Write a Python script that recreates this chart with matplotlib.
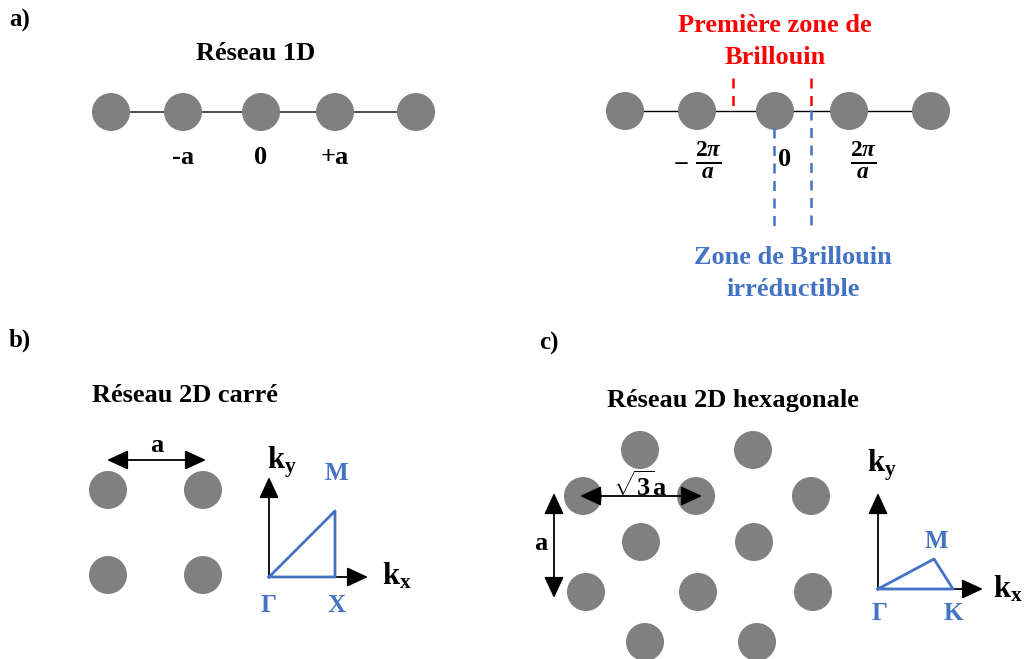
import matplotlib.pyplot as plt
from matplotlib.patches import Circle, FancyArrowPatch

plt.rcParams['font.family'] = ['Liberation Serif', 'DejaVu Serif']
plt.rcParams['font.weight'] = 'bold'
plt.rcParams['mathtext.fontset'] = 'custom'
plt.rcParams['mathtext.rm'] = 'Liberation Serif:bold'
plt.rcParams['mathtext.bf'] = 'Liberation Serif:bold'
plt.rcParams['mathtext.it'] = 'Liberation Serif:italic:bold'

GRAY = '#808080'
BLUE = '#4472C4'
RED = '#FF0000'
R = 19

# atom positions (pixel coordinates of the figure)
chain_left_x = [111, 183, 261, 335, 416]
chain_left_y = 112
chain_left_labels = ['', '-a', '0', '+a', '']
chain_right_x = [625, 697, 775, 849, 931]
chain_right_y = 111

square_x = [108, 203, 108, 203]
square_y = [490, 490, 575, 575]

hex_x = [640, 753, 583, 696, 811, 641, 754, 586, 698, 813, 645, 757]
hex_y = [450, 450, 496, 496, 496, 542, 542, 592, 592, 592, 642, 642]

# irreducible zones: Gamma, X/K, M
sq_zone_x = [269, 335, 335]
sq_zone_y = [577, 577, 511]
hex_zone_x = [878, 953, 934]
hex_zone_y = [589, 589, 559]

fig = plt.figure(figsize=(10.24, 6.59), dpi=100)
ax = fig.add_axes([0, 0, 1, 1])
ax.set_xlim(0, 1024)
ax.set_ylim(659, 0)
ax.axis('off')


def txt(x, y, s, size=18, color='black'):
    ax.text(x, y, s, fontsize=size, color=color, family='Liberation Serif',
            fontweight='bold', ha='center', va='center', zorder=6)


def atoms(xs, ys):
    for x, y in zip(xs, ys):
        ax.add_patch(Circle((x, y), R, color=GRAY, ec='none', zorder=2))


def arrow(p0, p1, style='-|>'):
    ax.add_patch(FancyArrowPatch(p0, p1, arrowstyle=style + ',head_length=1.3,head_width=0.6',
                                 mutation_scale=10, color='black', lw=1.3, zorder=4,
                                 shrinkA=0, shrinkB=0))


# a) 1D
txt(20, 20, 'a)')
txt(256, 53, 'Réseau 1D', 19)
ax.plot([chain_left_x[0], chain_left_x[-1]], [chain_left_y] * 2, color='#404040', lw=1.3, zorder=1)
atoms(chain_left_x, [chain_left_y] * 5)
for x, lab in zip(chain_left_x, chain_left_labels):
    txt(x, 157, lab, 19)

ax.plot([chain_right_x[0], chain_right_x[-1]], [chain_right_y] * 2, color='black', lw=1.0, zorder=1)
atoms(chain_right_x, [chain_right_y] * 5)
txt(775, 25, 'Première zone de', 19, RED)
txt(775, 58, 'Brillouin', 19, RED)
for x in [733, 811]:
    ax.plot([x, x], [78, 110], color=RED, ls=(0, (4, 3)), lw=1.8, zorder=3)
ax.plot([774, 774], [128, 228], color=BLUE, ls=(0, (4, 3)), lw=1.8, zorder=3)
ax.plot([811, 811], [110, 228], color=BLUE, ls=(0, (4, 3)), lw=1.8, zorder=3)
txt(793, 258, 'Zone de Brillouin', 19, BLUE)
txt(793, 290, 'irréductible', 19, BLUE)
txt(681, 163, r'$-$', 19)
txt(708, 160, r'$\frac{2\pi}{a}$', 24)
txt(785, 160, '0', 19)
txt(863, 160, r'$\frac{2\pi}{a}$', 24)

# b) square lattice
txt(20, 340, 'b)')
txt(185, 395, 'Réseau 2D carré', 19)
atoms(square_x, square_y)
arrow((107, 460), (206, 460), '<|-|>')
txt(157, 445, 'a', 19)
arrow((269, 577), (269, 477))
arrow((269, 577), (368, 577))
ax.plot(sq_zone_x + [sq_zone_x[0]], sq_zone_y + [sq_zone_y[0]], color=BLUE, lw=2, zorder=5)
txt(282, 462, r'$\mathrm{k_y}$', 22)
txt(397, 576, r'$\mathrm{k_x}$', 22)
txt(336, 473, 'M', 18, BLUE)
txt(269, 606, 'Γ', 18, BLUE)
txt(336, 606, 'X', 18, BLUE)

# c) hexagonal lattice
txt(549, 343, 'c)')
txt(733, 400, 'Réseau 2D hexagonale', 19)
atoms(hex_x, hex_y)
arrow((580, 496), (702, 496), '<|-|>')
txt(640, 486, r'$\sqrt{3}\mathrm{a}$', 19)
arrow((554, 493), (554, 598), '<|-|>')
txt(541, 543, 'a', 19)
arrow((878, 589), (878, 493))
arrow((878, 589), (983, 589))
ax.plot(hex_zone_x + [hex_zone_x[0]], hex_zone_y + [hex_zone_y[0]], color=BLUE, lw=2, zorder=5)
txt(882, 465, r'$\mathrm{k_y}$', 22)
txt(1008, 589, r'$\mathrm{k_x}$', 22)
txt(936, 542, 'M', 18, BLUE)
txt(880, 614, 'Γ', 18, BLUE)
txt(953, 614, 'K', 18, BLUE)

fig.savefig('out.png', dpi=100)
